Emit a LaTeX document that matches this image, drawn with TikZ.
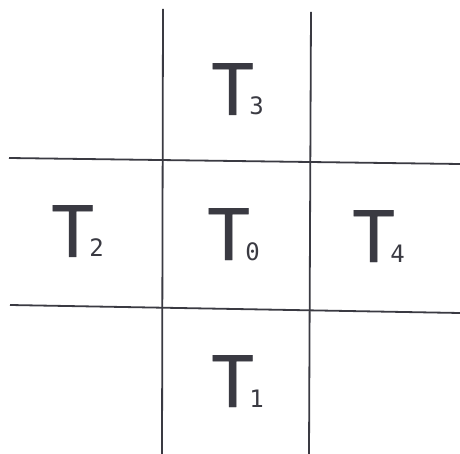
\documentclass[tikz,border=0pt]{standalone}
\usepackage{fontspec}
\newfontfamily\tmono{DejaVu Sans Mono}
\newfontfamily\tmonoheavy[FakeBold=0.6]{DejaVu Sans Mono}
\definecolor{ink}{HTML}{3A3A42}
\newcommand{\tlabel}[1]{{\tmonoheavy\fontsize{71}{71}\selectfont T}\kern-4.5pt{\tmono\fontsize{24}{24}\selectfont #1}}
\begin{document}
\begin{tikzpicture}[x=1pt,y=-1pt,
  gridline/.style={draw=ink,line width=1.8pt},
  tcell/.style={anchor=base west,inner sep=0pt,text=ink}]
\useasboundingbox (0,0) rectangle (460,454);
\fill[white] (0,0) rectangle (460,454);
% grid end points
\coordinate (v1t) at (163,9);   \coordinate (v1b) at (162,454);
\coordinate (v2t) at (311,12);  \coordinate (v2b) at (309,454);
\coordinate (h1l) at (9,158);   \coordinate (h1r) at (460,164);
\coordinate (h2l) at (10,305);  \coordinate (h2r) at (460,313);
\draw[gridline] (v1t) -- (v1b);
\draw[gridline] (v2t) -- (v2b);
\draw[gridline] (h1l) -- (h1r);
\draw[gridline] (h2l) -- (h2r);
% labels
\node[tcell] (t3) at (211,115) {\tlabel{3}};
\node[tcell] (t0) at (207,260) {\tlabel{0}};
\node[tcell] (t2) at (51,257) {\tlabel{2}};
\node[tcell] (t4) at (352,262) {\tlabel{4}};
\node[tcell] (t1) at (211,407) {\tlabel{1}};
\end{tikzpicture}
\end{document}
